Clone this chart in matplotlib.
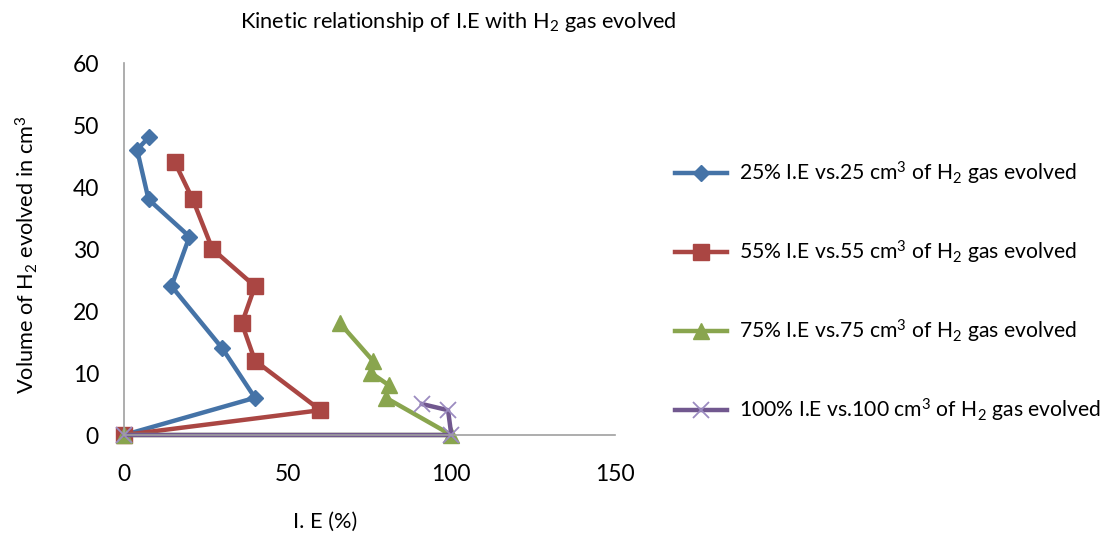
import matplotlib
matplotlib.use("Agg")
import matplotlib.pyplot as plt

plt.rcParams['font.family'] = ['Lato', 'DejaVu Sans']
plt.rcParams['mathtext.fontset'] = 'custom'
plt.rcParams['mathtext.rm'] = 'Lato'
plt.rcParams['mathtext.default'] = 'regular'

# Data (I.E %, volume of H2 in cm3)
ie_25 = [0, 40, 30, 14.5, 20, 7.5, 4, 7.5]
vol_25 = [0, 6, 14, 24, 32, 38, 46, 48]

ie_55 = [0, 60, 40, 36, 40, 27, 21, 15.5]
vol_55 = [0, 4, 12, 18, 24, 30, 38, 44]

ie_75 = [0, 100, 80, 81, 75.5, 76, 66]
vol_75 = [0, 0, 6, 8, 10, 12, 18]

ie_100 = [0, 100, 99, 91]
vol_100 = [0, 0, 4, 5]

labels = [
    "25% I.E vs.25 cm$^3$ of H$_2$ gas evolved",
    "55% I.E vs.55 cm$^3$ of H$_2$ gas evolved",
    "75% I.E vs.75 cm$^3$ of H$_2$ gas evolved",
    "100% I.E vs.100 cm$^3$ of H$_2$ gas evolved",
]
colors = ['#4573A7', '#AA4643', '#89A54E', '#71588F']
markers = ['D', 's', '^', 'x']
msizes = [8, 11, 12, 11]

W, H = 1108, 534
fig = plt.figure(figsize=(W / 100, H / 100), dpi=100)
ax = fig.add_axes([124 / W, (H - 435) / H, (615 - 124) / W, (435 - 63) / H])

series = [(ie_25, vol_25), (ie_55, vol_55), (ie_75, vol_75), (ie_100, vol_100)]
for (x, y), c, m, ms, lab in zip(series, colors, markers, msizes, labels):
    kw = dict(color=c, lw=3.2, marker=m, markersize=ms, label=lab, clip_on=False)
    if m == 'x':
        kw.update(markeredgecolor='#9B8BC0', markeredgewidth=1.3)
    else:
        kw.update(markeredgecolor=c)
    ax.plot(x, y, **kw)

ax.set_xlim(0, 150)
ax.set_ylim(0, 60)
ax.set_xticks([0, 50, 100, 150])
ax.set_yticks(range(0, 61, 10))
for s in ['top', 'right']:
    ax.spines[s].set_visible(False)
for s in ['left', 'bottom']:
    ax.spines[s].set_color('#A0A0A0')
    ax.spines[s].set_linewidth(1.2)
ax.tick_params(length=0, labelsize=16.5, colors='#000000')
ax.tick_params(axis='y', pad=18)
ax.tick_params(axis='x', pad=21)

fs = 15.7
fig.text(458 / W, 1 - 22 / H, "Kinetic relationship of I.E with H$_2$ gas evolved",
         ha='center', va='center', fontsize=fs)
fig.text(325 / W, 1 - 522 / H, "I. E (%)", ha='center', va='center', fontsize=fs)
fig.text(27 / W, 1 - 255 / H, "Volume of H$_2$ evolved in cm$^3$", ha='center', va='center',
         rotation=90, fontsize=fs)

leg = fig.legend(loc='center left', bbox_to_anchor=(656 / W, 1 - 292 / H),
                 frameon=False, fontsize=15.2, labelspacing=2.45, handlelength=2.45,
                 handletextpad=0.6)

fig.savefig("out.png", dpi=100)
